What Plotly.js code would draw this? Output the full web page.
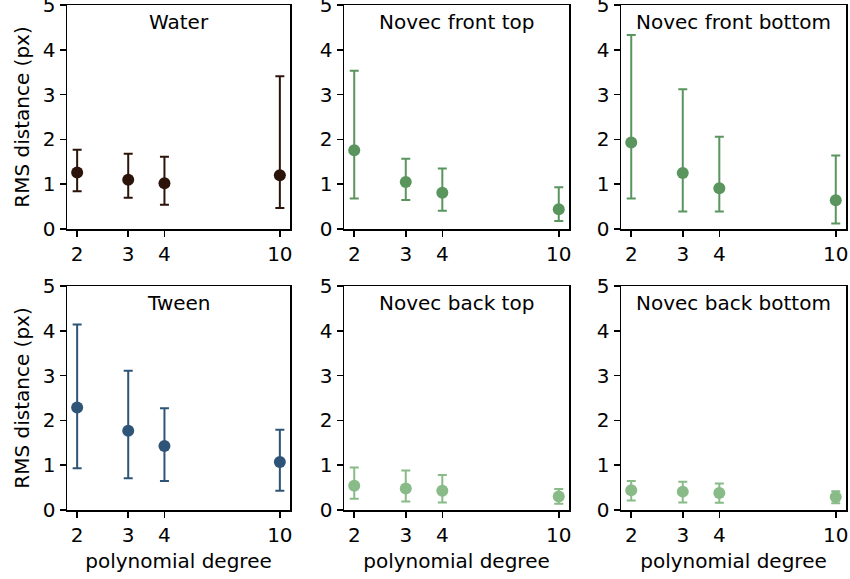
<!DOCTYPE html>
<html>
<head>
<meta charset="utf-8">
<script src="https://cdn.plot.ly/plotly-3.0.1.min.js"></script>
<style>html,body{margin:0;padding:0;background:#fff;}#chart{width:850px;height:579px;}</style>
</head>
<body>
<div id="chart"></div>
<script>
const degrees = [2, 3, 4, 10];
const tickLabels = ["2", "3", "4", "10"];
const panelTitles = ["Water", "Novec front top", "Novec front bottom", "Tween", "Novec back top", "Novec back bottom"];
const colors = ["#2d140a", "#5a955e", "#5a955e", "#2e5577", "#88bb88", "#88bb88"];

const waterMean = [1.26, 1.10, 1.02, 1.20];
const waterUpper = [1.77, 1.68, 1.61, 3.41];
const waterLower = [0.84, 0.70, 0.54, 0.47];

const frontTopMean = [1.76, 1.05, 0.81, 0.44];
const frontTopUpper = [3.53, 1.57, 1.35, 0.93];
const frontTopLower = [0.68, 0.65, 0.41, 0.18];

const frontBottomMean = [1.93, 1.25, 0.91, 0.64];
const frontBottomUpper = [4.33, 3.12, 2.06, 1.64];
const frontBottomLower = [0.68, 0.39, 0.39, 0.12];

const tweenMean = [2.29, 1.77, 1.43, 1.07];
const tweenUpper = [4.14, 3.11, 2.27, 1.79];
const tweenLower = [0.93, 0.71, 0.65, 0.43];

const backTopMean = [0.54, 0.48, 0.43, 0.30];
const backTopUpper = [0.95, 0.88, 0.78, 0.47];
const backTopLower = [0.25, 0.19, 0.17, 0.14];

const backBottomMean = [0.44, 0.41, 0.38, 0.29];
const backBottomUpper = [0.65, 0.63, 0.59, 0.42];
const backBottomLower = [0.21, 0.17, 0.16, 0.15];

const means = [waterMean, frontTopMean, frontBottomMean, tweenMean, backTopMean, backBottomMean];
const uppers = [waterUpper, frontTopUpper, frontBottomUpper, tweenUpper, backTopUpper, backBottomUpper];
const lowers = [waterLower, frontTopLower, frontBottomLower, tweenLower, backTopLower, backBottomLower];

const W = 850, H = 579;
const colPx = [[67, 290], [344, 569], [621, 846]];
const rowPx = [[5, 229], [286, 510]];
const font = {family: "DejaVu Sans", size: 20, color: "#000"};

const traces = [];
const layout = {
  width: W, height: H,
  margin: {l: 0, r: 0, t: 0, b: 0},
  paper_bgcolor: "#fff", plot_bgcolor: "#fff",
  showlegend: false,
  font: font,
  annotations: []
};

for (let i = 0; i < 6; i++) {
  const r = Math.floor(i / 3), c = i % 3;
  const n = i + 1;
  const xa = n === 1 ? "x" : "x" + n;
  const ya = n === 1 ? "y" : "y" + n;
  const xk = n === 1 ? "xaxis" : "xaxis" + n;
  const yk = n === 1 ? "yaxis" : "yaxis" + n;
  const m = means[i];
  traces.push({
    type: "scatter", mode: "markers",
    x: degrees, y: m, xaxis: xa, yaxis: ya,
    marker: {color: colors[i], size: 12},
    error_y: {
      type: "data", symmetric: false,
      array: uppers[i].map((u, k) => u - m[k]),
      arrayminus: lowers[i].map((l, k) => m[k] - l),
      color: colors[i], thickness: 2, width: 4.5
    },
    hoverinfo: "x+y"
  });
  layout[xk] = {
    domain: [colPx[c][0] / W, colPx[c][1] / W],
    anchor: ya,
    type: "log",
    range: [Math.log10(2) - 0.035, 1.035],
    tickvals: degrees, ticktext: tickLabels,
    ticks: "outside", ticklen: 6, tickwidth: 1.5, tickcolor: "#000",
    showline: true, mirror: true, linecolor: "#000", linewidth: 1.5,
    showgrid: false, zeroline: false,
    tickfont: font,
    title: r === 1 ? {text: "polynomial degree", font: font, standoff: 8} : {text: ""}
  };
  layout[yk] = {
    domain: [1 - rowPx[r][1] / H, 1 - rowPx[r][0] / H],
    anchor: xa,
    range: [0, 5],
    tickvals: [0, 1, 2, 3, 4, 5],
    ticks: "outside", ticklen: 6, tickwidth: 1.5, tickcolor: "#000",
    ticklabeloverflow: "allow",
    showline: true, mirror: true, linecolor: "#000", linewidth: 1.5,
    showgrid: false, zeroline: false,
    tickfont: font,
    title: c === 0 ? {text: "RMS distance (px)", font: font, standoff: 8} : {text: ""}
  };
  layout.annotations.push({
    text: panelTitles[i],
    xref: xa + " domain", yref: ya + " domain",
    x: 0.5, y: 0.985, xanchor: "center", yanchor: "top",
    showarrow: false, font: font
  });
}

Plotly.newPlot("chart", traces, layout, {displayModeBar: false, staticPlot: true});
</script>
</body>
</html>
